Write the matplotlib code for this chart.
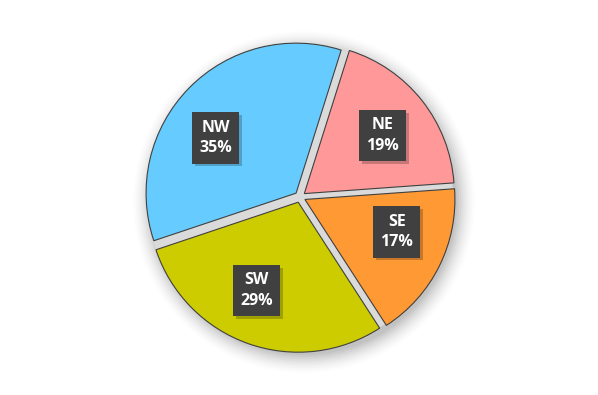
import numpy as np
import matplotlib
matplotlib.use('Agg')
import matplotlib.pyplot as plt
import matplotlib.patheffects as pe
from matplotlib.patches import Circle

# regions and their shares (percent)
regions = ['NE', 'SE', 'SW', 'NW']
shares = [19, 17, 29, 35]
colors = ['#FF9999', '#FF9933', '#CCCC00', '#66CCFF']

fig = plt.figure(figsize=(5.98, 3.95), dpi=100)
ax = fig.add_axes([0, 0, 1, 1])

cx, cy, r = 300, 198, 150
gap = 5.5
# excel "best fit" puts the labels a bit off the slice middle (degrees)
label_turn = [-2, 7, -6, 10]

# soft shadow around the pie
for i, a in enumerate(np.linspace(0.045, 0.01, 9)):
    ax.add_patch(Circle((cx + 4, cy - 5), r + 3 + i * 2.2, color='black', alpha=a, lw=0, zorder=0))
ax.add_patch(Circle((cx, cy), r + 3, color='#DADADA', lw=0, zorder=1))

wedges, _ = ax.pie(shares, colors=colors, startangle=72.5, counterclock=False,
                   center=(cx, cy), radius=r, explode=[gap] * 4,
                   wedgeprops=dict(edgecolor='#404040', linewidth=0.8))
for w in wedges:
    w.set_zorder(2)

for w, name, s, t in zip(wedges, regions, shares, label_turn):
    mid = np.deg2rad((w.theta1 + w.theta2) / 2)
    vx, vy = w.center
    ang = mid + np.deg2rad(t)
    d = r * 0.65
    txt = ax.text(vx + d * np.cos(ang), vy + d * np.sin(ang), f'{name}\n{s}%',
                  ha='center', va='center', color='white', fontsize=11.5,
                  fontweight='bold', family='Open Sans', linespacing=1.4, zorder=5,
                  bbox=dict(boxstyle='square,pad=0.45', fc='#404040', ec='none'))
    txt.get_bbox_patch().set_path_effects([
        pe.SimplePatchShadow(offset=(2, -2), shadow_rgbFace='black', alpha=0.22),
        pe.Normal()])

ax.set_xlim(0, 598)
ax.set_ylim(0, 395)
ax.set_aspect('equal')
ax.axis('off')

fig.savefig('out.png', dpi=100)
